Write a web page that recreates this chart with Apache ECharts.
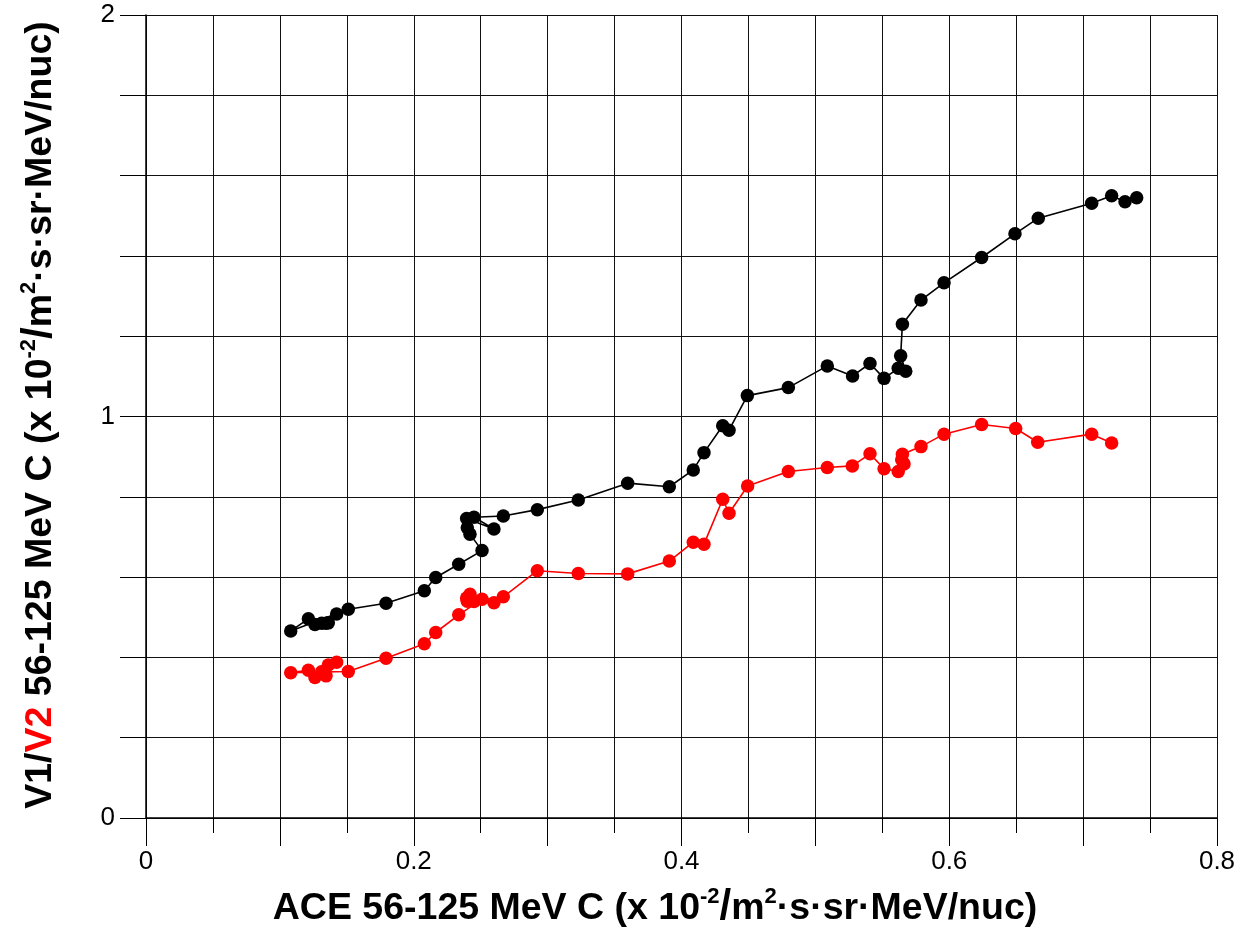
<!DOCTYPE html>
<html><head><meta charset="utf-8">
<script src="https://cdn.jsdelivr.net/npm/echarts@6/dist/echarts.min.js"></script>
<style>html,body{margin:0;padding:0;background:#fff}#c{width:1249px;height:932px}</style>
</head><body><div id="c"></div>
<script>
// V1 (black) series: ACE flux vs V1 flux
const v1X = [0.1424, 0.1362, 0.1345, 0.1312, 0.1262, 0.1213, 0.1081, 0.1511, 0.1793, 0.2079, 0.2164, 0.2336, 0.2510, 0.2420, 0.2400, 0.2395, 0.2599, 0.2450, 0.2669, 0.2923, 0.3229, 0.3598, 0.3909, 0.4088, 0.4168, 0.4308, 0.4355, 0.4492, 0.4798, 0.5089, 0.5278, 0.5408, 0.5513, 0.5619, 0.5675, 0.5637, 0.5650, 0.5789, 0.5961, 0.6242, 0.6491, 0.6665, 0.7064, 0.7213, 0.7313, 0.7400];
const v1Y = [0.508, 0.486, 0.485, 0.485, 0.482, 0.496, 0.466, 0.520, 0.535, 0.566, 0.599, 0.632, 0.666, 0.707, 0.723, 0.746, 0.720, 0.749, 0.752, 0.768, 0.792, 0.834, 0.825, 0.867, 0.910, 0.977, 0.966, 1.052, 1.072, 1.126, 1.101, 1.132, 1.095, 1.120, 1.113, 1.151, 1.230, 1.290, 1.333, 1.396, 1.455, 1.494, 1.531, 1.550, 1.535, 1.545];
// V2 (red) series
const v2X = [0.1424, 0.1362, 0.1345, 0.1312, 0.1262, 0.1213, 0.1081, 0.1511, 0.1793, 0.2079, 0.2164, 0.2336, 0.2510, 0.2420, 0.2400, 0.2395, 0.2599, 0.2450, 0.2669, 0.2923, 0.3229, 0.3598, 0.3909, 0.4088, 0.4168, 0.4308, 0.4355, 0.4494, 0.4798, 0.5089, 0.5276, 0.5408, 0.5513, 0.5619, 0.5662, 0.5645, 0.5650, 0.5789, 0.5961, 0.6242, 0.6496, 0.6661, 0.7064, 0.7213];
const v2Y = [0.388, 0.381, 0.354, 0.364, 0.350, 0.368, 0.362, 0.365, 0.398, 0.434, 0.462, 0.506, 0.545, 0.557, 0.540, 0.548, 0.536, 0.539, 0.551, 0.616, 0.609, 0.608, 0.640, 0.687, 0.682, 0.794, 0.759, 0.827, 0.863, 0.873, 0.877, 0.907, 0.870, 0.863, 0.882, 0.892, 0.906, 0.925, 0.956, 0.980, 0.970, 0.936, 0.956, 0.934];
const xTickLabels = ['0', '0.2', '0.4', '0.6', '0.8'];
const yTickLabels = ['0', '1', '2'];

const FONT = '"Liberation Sans", Arial, sans-serif';
const TSIZE = 37.5;
function richStyles(){
  const base = {fontSize: TSIZE, fontWeight: 'bold', fontFamily: FONT, fill: '#000', verticalAlign: 'bottom'};
  return {
    b: base,
    r: Object.assign({}, base, {fill: '#ff0000'}),
    d: Object.assign({}, base, {fontSize: 44}),
    s: {fontSize: 22, fontWeight: 'bold', fontFamily: FONT, fill: '#000', verticalAlign: 'top'},
    sl: {fontSize: 42, fontWeight: 'bold', fontFamily: FONT, fill: '#000', verticalAlign: 'bottom'}
  };
}
const unitRich = '{b|ACE 56-125 MeV C (x 10}{s|-2}{sl|/}{b|m}{s|2}{b|·s·sr·MeV/nuc)}';
const yRich = '{b|V1/}{r|V2}{b| 56-125 MeV C (x 10}{s|-2}{sl|/}{b|m}{s|2}{b|·s·sr·MeV/nuc)}';

const chart = echarts.init(document.getElementById('c'), null, {renderer: 'canvas'});
const pairs = (xs, ys) => xs.map((x, i) => [x, ys[i]]);
const lineCol = '#000';
chart.setOption({
  animation: false,
  backgroundColor: '#fff',
  grid: {left: 146, top: 15, width: 1071, height: 803, containLabel: false},
  xAxis: {
    type: 'value', min: 0, max: 0.8, interval: 0.1,
    axisLine: {show: true, onZero: false, lineStyle: {color: lineCol, width: 1.5}},
    axisTick: {show: true, inside: false, length: 28, lineStyle: {color: lineCol, width: 1}},
    minorTick: {show: true, splitNumber: 2, length: 15, lineStyle: {color: lineCol, width: 1}},
    splitLine: {show: true, lineStyle: {color: '#111', width: 1}},
    minorSplitLine: {show: true, lineStyle: {color: '#111', width: 1}},
    axisLabel: {
      margin: 31, fontSize: 26, color: '#000', fontFamily: FONT,
      showMinLabel: true, showMaxLabel: true,
      formatter: v => { const k = Math.round(v * 10); return k % 2 === 0 ? xTickLabels[k / 2] : ''; }
    }
  },
  yAxis: {
    type: 'value', min: 0, max: 2, interval: 0.2,
    axisLine: {show: true, onZero: false, lineStyle: {color: lineCol, width: 1.5}},
    axisTick: {show: true, inside: false, length: 26, lineStyle: {color: lineCol, width: 1}},
    splitLine: {show: true, lineStyle: {color: '#111', width: 1}},
    axisLabel: {
      margin: 31, fontSize: 26, color: '#000', fontFamily: FONT,
      showMinLabel: true, showMaxLabel: true,
      formatter: v => { const k = Math.round(v * 5); return k % 5 === 0 ? yTickLabels[k / 5] : ''; }
    }
  },
  series: [
    {type: 'line', data: pairs(v1X, v1Y), symbol: 'circle', symbolSize: 13.5, showAllSymbol: true,
     itemStyle: {color: '#000'}, lineStyle: {color: '#000', width: 1.6}, clip: false, z: 3},
    {type: 'line', data: pairs(v2X, v2Y), symbol: 'circle', symbolSize: 13.5, showAllSymbol: true,
     itemStyle: {color: '#ff0000'}, lineStyle: {color: '#ff0000', width: 1.6}, clip: false, z: 4}
  ],
  graphic: [
    {type: 'text', x: 655, y: 907, style: {text: unitRich, rich: richStyles(), align: 'center', verticalAlign: 'middle'}},
    {type: 'text', x: 39, y: 415, rotation: Math.PI / 2, style: {text: yRich, rich: richStyles(), align: 'center', verticalAlign: 'middle'}}
  ]
});
</script></body></html>
